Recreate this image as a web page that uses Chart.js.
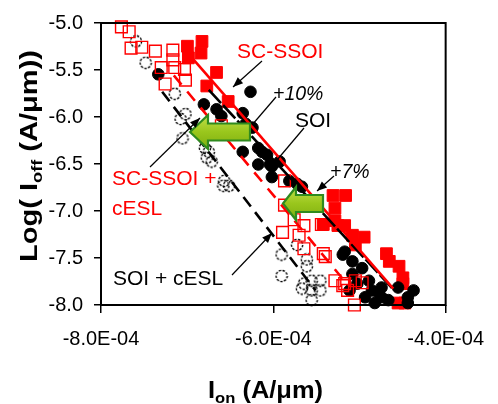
<!DOCTYPE html>
<html>
<head>
<meta charset="utf-8">
<script src="https://cdn.jsdelivr.net/npm/chart.js@4.4.0/dist/chart.umd.min.js"></script>
<style>
  html, body { margin: 0; padding: 0; background: #fff; }
  #wrap { width: 498px; height: 404px; }
</style>
</head>
<body>
<div id="wrap"><canvas id="chart" width="498" height="404"></canvas></div>
<script>
// Ion (A/um) vs log10(Ioff (A/um))
const ssoiIon = [-6.997e-4, -6.986e-4, -6.828e-4, -6.839e-4, -6.659e-4, -6.772e-4, -6.524e-4, -5.307e-4,
  -5.161e-4, -5.285e-4, -5.285e-4, -5.172e-4, -5.251e-4, -5.420e-4, -5.082e-4, -4.946e-4, -5.048e-4,
  -4.687e-4, -4.654e-4, -4.541e-4, -4.496e-4, -4.496e-4, -4.552e-4, -4.473e-4];
const ssoiLogIoff = [-5.247, -5.371, -5.196, -5.320, -5.526, -5.670, -5.835, -6.835,
  -6.835, -6.969, -7.103, -7.155, -7.155, -7.144, -7.258, -7.278, -7.361,
  -7.454, -7.536, -7.588, -7.711, -7.773, -7.979, -7.979];

const ssoiEslIon = [-7.763e-4, -7.673e-4, -7.651e-4, -7.527e-4, -7.369e-4, -7.166e-4, -7.166e-4, -7.301e-4,
  -7.144e-4, -7.031e-4, -7.256e-4, -7.020e-4, -6.603e-4, -5.870e-4, -5.870e-4, -5.758e-4, -5.645e-4,
  -5.893e-4, -5.701e-4, -5.442e-4, -5.645e-4, -5.420e-4, -5.397e-4, -5.285e-4, -5.172e-4, -5.138e-4,
  -5.048e-4, -4.969e-4, -5.059e-4, -5.194e-4];
const ssoiEslLogIoff = [-5.041, -5.093, -5.268, -5.258, -5.299, -5.289, -5.392, -5.474,
  -5.474, -5.495, -5.649, -5.608, -6.093, -6.680, -6.938, -7.093, -7.155,
  -7.227, -7.258, -7.144, -7.402, -7.454, -7.485, -7.742, -7.773, -7.845,
  -7.742, -7.763, -8.000, -7.794];

const soiIon = [-7.335e-4, -6.265e-4, -6.806e-4, -6.659e-4, -6.603e-4, -6.355e-4, -6.321e-4, -6.242e-4,
  -6.355e-4, -6.130e-4, -6.073e-4, -6.175e-4, -6.039e-4, -6.017e-4, -6.017e-4, -5.814e-4, -5.724e-4,
  -5.668e-4, -5.927e-4, -6.175e-4, -5.172e-4, -5.082e-4, -4.969e-4, -4.890e-4, -4.856e-4, -4.777e-4,
  -4.935e-4, -4.823e-4, -4.744e-4, -4.552e-4, -4.372e-4, -4.439e-4, -4.439e-4, -5.082e-4, -5.194e-4,
  -4.744e-4, -5.025e-4, -4.665e-4, -5.115e-4];
const soiLogIoff = [-5.546, -5.732, -5.866, -5.918, -5.990, -5.959, -6.072, -6.113,
  -6.371, -6.371, -6.402, -6.505, -6.505, -6.639, -6.526, -6.680, -6.711,
  -6.742, -6.474, -6.330, -7.433, -7.536, -7.608, -7.742, -7.845, -7.876,
  -7.918, -7.979, -7.814, -7.814, -7.845, -7.918, -7.979, -7.670, -7.464,
  -7.918, -7.773, -7.948, -7.845];

const soiEslIon = [-7.594e-4, -7.482e-4, -7.144e-4, -7.020e-4, -7.076e-4, -7.054e-4, -6.749e-4, -6.772e-4,
  -6.715e-4, -6.569e-4, -6.580e-4, -6.513e-4, -5.904e-4, -5.904e-4, -5.724e-4, -5.611e-4, -5.611e-4,
  -5.555e-4, -5.454e-4, -5.668e-4, -5.555e-4, -5.454e-4, -5.555e-4, -5.645e-4, -6.794e-4];
const soiEslLogIoff = [-5.196, -5.423, -5.753, -5.969, -6.021, -6.227, -6.371, -6.433,
  -6.474, -6.680, -6.732, -6.732, -7.464, -7.691, -7.361, -7.515, -7.588,
  -7.742, -7.742, -7.825, -7.845, -7.845, -7.948, -7.773, -6.330];

// trend lines (end points)
const ssoiFitIon = [-7.042e-4, -4.608e-4];
const ssoiFitLogIoff = [-5.268, -7.825];
const soiFitIon = [-6.749e-4, -4.597e-4];
const soiFitLogIoff = [-5.711, -7.845];
const ssoiEslFitIon = [-7.155e-4, -5.194e-4];
const ssoiEslFitLogIoff = [-5.557, -7.722];
const soiEslFitIon = [-7.290e-4, -5.510e-4];
const soiEslFitLogIoff = [-5.732, -7.845];

const xTicks = [-8e-4, -6e-4, -4e-4];
const yTicks = [-8.0, -7.5, -7.0, -6.5, -6.0, -5.5, -5.0];

const FONT = '"Liberation Sans", Arial, sans-serif';
const RED = '#ff0000';

function zip(xs, ys) {
  return xs.map((x, i) => ({ x: x, y: ys[i] }));
}

function sci(v) {
  const parts = v.toExponential(1).split('e');
  const exp = parseInt(parts[1], 10);
  return parts[0] + 'E' + (exp < 0 ? '-' : '+') + String(Math.abs(exp)).padStart(2, '0');
}

// open circle with a dotted rim
const dotCircle = document.createElement('canvas');
dotCircle.width = 14;
dotCircle.height = 14;
(function () {
  const c = dotCircle.getContext('2d');
  c.strokeStyle = '#000';
  c.lineWidth = 1.4;
  c.setLineDash([2.4, 1.4]);
  c.beginPath();
  c.arc(7, 7, 5.6, 0, Math.PI * 2);
  c.stroke();
})();

function fitLine(xs, ys, color, dash, order) {
  return {
    type: 'line', data: zip(xs, ys), borderColor: color, borderWidth: 2.6,
    borderDash: dash, pointRadius: 0, showLine: true, fill: false, order: order
  };
}

function arrowLine(ctx, x1, y1, x2, y2, head) {
  ctx.beginPath();
  ctx.moveTo(x1, y1);
  ctx.lineTo(x2, y2);
  ctx.stroke();
  if (head) {
    const a = Math.atan2(y2 - y1, x2 - x1);
    const L = 10, W = 4;
    ctx.beginPath();
    ctx.moveTo(x2, y2);
    ctx.lineTo(x2 - L * Math.cos(a) + W * Math.sin(a), y2 - L * Math.sin(a) - W * Math.cos(a));
    ctx.lineTo(x2 - L * Math.cos(a) - W * Math.sin(a), y2 - L * Math.sin(a) + W * Math.cos(a));
    ctx.closePath();
    ctx.fill();
  }
}

function blockArrow(ctx, tipX, tipY, headX, headHalf, shaftHalf, tailX) {
  const g = ctx.createLinearGradient(0, tipY - headHalf, 0, tipY + headHalf);
  g.addColorStop(0, '#c2e04a');
  g.addColorStop(0.5, '#99c61c');
  g.addColorStop(1, '#7fae10');
  ctx.beginPath();
  ctx.moveTo(tipX, tipY);
  ctx.lineTo(headX, tipY - headHalf);
  ctx.lineTo(headX, tipY - shaftHalf);
  ctx.lineTo(tailX, tipY - shaftHalf);
  ctx.lineTo(tailX, tipY + shaftHalf);
  ctx.lineTo(headX, tipY + shaftHalf);
  ctx.lineTo(headX, tipY + headHalf);
  ctx.closePath();
  ctx.fillStyle = g;
  ctx.fill();
  ctx.strokeStyle = '#2f8a1e';
  ctx.lineWidth = 2.2;
  ctx.lineJoin = 'miter';
  ctx.stroke();
}

// text made of pieces (for subscripts)
function richText(ctx, parts) {
  let x = 0;
  parts.forEach(p => {
    ctx.font = p.font;
    ctx.fillText(p.t, x, p.dy || 0);
    x += ctx.measureText(p.t).width;
  });
  return x;
}
function richWidth(ctx, parts) {
  let w = 0;
  parts.forEach(p => { ctx.font = p.font; w += ctx.measureText(p.t).width; });
  return w;
}

const decor = {
  id: 'decor',
  afterDatasetsDraw(chart) {
    const ctx = chart.ctx;
    const a = chart.chartArea;
    ctx.save();

    // plot frame
    ctx.strokeStyle = '#000';
    ctx.lineWidth = 2;
    ctx.strokeRect(a.left, a.top, a.right - a.left, a.bottom - a.top);

    // green block arrows
    blockArrow(ctx, 190, 132, 208, 17, 8.5, 250);
    blockArrow(ctx, 283, 203.5, 296, 16.5, 8.5, 323);

    // pointer lines
    ctx.strokeStyle = '#000';
    ctx.fillStyle = '#000';
    ctx.lineWidth = 1.2;
    arrowLine(ctx, 262, 61, 233, 87, true);
    arrowLine(ctx, 276, 97, 252, 125, false);
    arrowLine(ctx, 304, 128, 277, 160, false);
    arrowLine(ctx, 334, 176, 317, 191, true);
    arrowLine(ctx, 150, 167, 200, 118, true);
    arrowLine(ctx, 232, 275, 272, 233, true);

    // labels
    ctx.textBaseline = 'alphabetic';
    ctx.textAlign = 'left';
    ctx.fillStyle = RED;
    ctx.font = '21px ' + FONT;
    ctx.fillText('SC-SSOI', 237, 58);
    ctx.fillText('SC-SSOI +', 112, 185);
    ctx.fillText('cESL', 112, 215);
    ctx.fillStyle = '#000';
    ctx.fillText('SOI', 295, 127);
    ctx.fillText('SOI + cESL', 113, 285);
    ctx.font = 'italic 19.5px ' + FONT;
    ctx.fillText('+10%', 273, 100);
    ctx.fillText('+7%', 330, 178);

    // axis titles
    const big = 'bold 24px ' + FONT, small = 'bold 15px ' + FONT;
    const yParts = [{ t: 'Log( I', font: big }, { t: 'off', font: small, dy: 5 }, { t: ' (A/\u03bcm))', font: big }];
    const yw = richWidth(ctx, yParts);
    ctx.save();
    ctx.translate(37, 156);
    ctx.rotate(-Math.PI / 2);
    ctx.scale(212 / yw, 1);
    ctx.translate(-yw / 2, 0);
    richText(ctx, yParts);
    ctx.restore();

    const xParts = [{ t: 'I', font: 'bold 23px ' + FONT }, { t: 'on', font: small, dy: 5 }, { t: ' (A/\u03bcm)', font: 'bold 23px ' + FONT }];
    const xw = richWidth(ctx, xParts);
    ctx.save();
    ctx.translate(208, 398);
    ctx.scale(115 / xw, 1);
    richText(ctx, xParts);
    ctx.restore();

    ctx.restore();
  }
};

new Chart(document.getElementById('chart'), {
  type: 'scatter',
  data: {
    datasets: [
      fitLine(ssoiFitIon, ssoiFitLogIoff, RED, [], 0),
      fitLine(soiFitIon, soiFitLogIoff, '#000', [18, 3], 1),
      fitLine(ssoiEslFitIon, ssoiEslFitLogIoff, RED, [12, 9], 2),
      fitLine(soiEslFitIon, soiEslFitLogIoff, '#000', [12, 7], 3),
      {
        label: 'SC-SSOI + cESL', data: zip(ssoiEslIon, ssoiEslLogIoff), pointStyle: 'rect',
        pointRadius: 8.3, backgroundColor: 'rgba(0,0,0,0)', borderColor: RED, borderWidth: 1.4, order: 4
      },
      {
        label: 'SOI + cESL', data: zip(soiEslIon, soiEslLogIoff), pointStyle: dotCircle, order: 5
      },
      {
        label: 'SOI', data: zip(soiIon, soiLogIoff), pointStyle: 'circle',
        pointRadius: 5.8, backgroundColor: '#000', borderColor: '#000', borderWidth: 1, order: 6
      },
      {
        label: 'SC-SSOI', data: zip(ssoiIon, ssoiLogIoff), pointStyle: 'rect',
        pointRadius: 8.3, backgroundColor: RED, borderColor: RED, borderWidth: 1, order: 7
      }
    ]
  },
  options: {
    responsive: false,
    animation: false,
    clip: false,
    layout: { padding: { left: 0, right: 42, top: 14, bottom: 0 } },
    plugins: { legend: { display: false }, tooltip: { enabled: false } },
    scales: {
      x: {
        type: 'linear', min: -8e-4, max: -4e-4,
        afterBuildTicks: s => { s.ticks = xTicks.map(v => ({ value: v })); },
        afterFit: s => { s.height = 99; },
        border: { display: false },
        grid: { drawOnChartArea: false, drawTicks: true, tickLength: 8, color: '#000', lineWidth: 1.5 },
        ticks: { color: '#000', padding: 14, maxRotation: 0, font: { family: FONT, size: 20 }, callback: v => sci(v) }
      },
      y: {
        type: 'linear', min: -8, max: -5,
        afterBuildTicks: s => { s.ticks = yTicks.map(v => ({ value: v })); },
        afterFit: s => { s.width = 101; },
        border: { display: false },
        grid: { drawOnChartArea: false, drawTicks: true, tickLength: 7, color: '#000', lineWidth: 1.5 },
        ticks: { color: '#000', padding: 11, font: { family: FONT, size: 20 }, callback: v => v.toFixed(1) }
      }
    }
  },
  plugins: [decor]
});
</script>
</body>
</html>
